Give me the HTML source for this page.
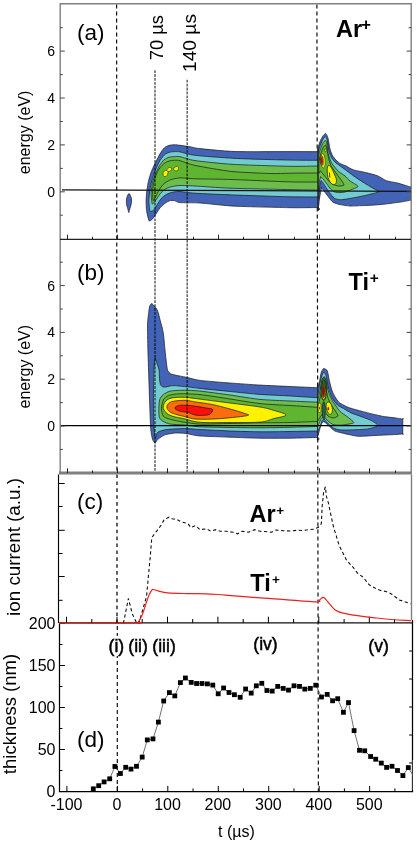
<!DOCTYPE html>
<html><head><meta charset="utf-8"><style>
html,body{margin:0;padding:0;background:#fff;overflow:hidden;}
svg{display:block;}
text{font-family:"Liberation Sans",sans-serif;fill:#000;}
</style></head><body>
<svg width="417" height="841" viewBox="0 0 417 841">
<rect width="417" height="841" fill="#fff"/>
<path d="M116.6 4.5 L116.9 471" stroke="#111" stroke-width="1.2" stroke-dasharray="4 3"/>
<path d="M117 474.5 V623" stroke="#5a5a5a" stroke-width="1.9" stroke-dasharray="3.6 3.3"/>
<path d="M117.3 626 V791" stroke="#111" stroke-width="1.2" stroke-dasharray="4 3"/>
<path d="M316.9 4.5 L318.4 791" stroke="#111" stroke-width="1.2" stroke-dasharray="4 3"/>
<path d="M129.0 193.6 C129.6 193.6 130.4 195.4 130.8 196.5 C131.2 197.6 131.6 198.6 131.6 200.0 C131.6 201.4 131.3 203.4 131.0 205.0 C130.7 206.6 130.0 208.2 129.6 209.5 C129.2 210.8 129.1 212.5 128.8 212.5 C128.5 212.5 128.3 210.8 128.0 209.5 C127.7 208.2 127.0 206.6 126.7 205.0 C126.4 203.4 126.3 201.4 126.4 200.0 C126.5 198.6 126.8 197.6 127.2 196.5 C127.6 195.4 128.4 193.6 129.0 193.6Z" fill="#4363b6" stroke="#1a1a1a" stroke-width="0.72" stroke-linejoin="round"/>
<path d="M149.1 220.8 C148.4 219.9 146.9 213.1 146.6 210.7 C146.2 208.3 146.1 203.0 146.1 200.6 C146.1 198.2 146.6 192.9 146.9 190.5 C147.2 188.1 148.1 182.5 148.6 180.4 C149.1 178.3 150.5 174.1 151.1 172.3 C151.7 170.5 153.3 167.1 154.1 165.3 C154.9 163.5 157.3 158.9 158.2 157.2 C159.1 155.5 160.9 152.3 161.7 151.1 C162.5 149.9 164.3 147.8 165.3 147.1 C166.3 146.4 169.1 145.4 170.3 145.1 C171.5 144.8 174.3 144.8 175.4 144.8 C176.5 144.8 178.2 145.1 180.0 145.3 C181.8 145.5 188.7 146.5 191.0 146.9 C193.3 147.3 194.9 148.1 200.0 148.6 C205.1 149.1 224.5 151.2 235.0 151.5 C245.5 151.8 280.3 151.6 290.0 151.6 C299.7 151.6 314.7 151.7 318.0 151.7 C321.3 151.7 318.0 145.2 318.0 151.7 C318.0 158.2 318.0 201.0 318.0 207.5 C318.0 214.0 321.3 207.5 318.0 207.5 C314.7 207.5 299.7 207.9 290.0 207.7 C280.3 207.5 245.5 206.7 235.0 206.2 C224.5 205.7 206.4 203.4 200.0 203.0 C193.6 202.6 183.0 202.9 180.0 202.6 C177.0 202.3 175.4 200.8 174.3 200.6 C173.2 200.4 171.4 200.3 170.3 200.6 C169.2 200.9 166.5 202.3 165.3 203.1 C164.1 203.9 161.3 206.5 160.2 207.7 C159.1 208.9 157.1 212.4 156.2 213.7 C155.3 215.0 153.4 218.0 152.6 218.8 C151.8 219.6 149.8 221.7 149.1 220.8Z" fill="#4363b6" stroke="#1a1a1a" stroke-width="0.72" stroke-linejoin="round"/>
<path d="M150.1 211.2 C149.5 210.1 148.9 203.2 148.9 200.6 C148.9 198.0 149.7 191.1 150.1 188.5 C150.5 185.9 151.9 180.8 152.6 178.4 C153.3 176.0 155.3 170.4 156.2 168.3 C157.1 166.2 159.1 161.9 160.2 160.2 C161.3 158.5 164.1 155.0 165.3 154.1 C166.5 153.2 169.1 152.4 170.3 152.1 C171.5 151.8 174.3 151.6 175.4 151.6 C176.5 151.6 177.7 151.5 180.0 151.9 C182.3 152.3 188.6 154.5 195.0 155.3 C201.4 156.1 223.9 157.8 235.0 158.4 C246.1 159.0 280.3 159.9 290.0 160.1 C299.7 160.3 314.7 160.3 318.0 160.3 C321.3 160.3 318.0 156.0 318.0 160.3 C318.0 164.6 318.0 192.6 318.0 196.9 C318.0 201.2 321.3 196.9 318.0 196.9 C314.7 196.9 299.7 197.0 290.0 196.8 C280.3 196.6 246.1 195.4 235.0 195.0 C223.9 194.6 201.4 193.6 195.0 193.2 C188.6 192.8 182.5 191.6 180.0 191.5 C177.5 191.4 174.9 191.7 173.3 192.0 C171.7 192.3 167.7 193.7 166.3 194.5 C164.9 195.3 162.3 197.4 161.2 198.6 C160.1 199.8 158.0 203.3 157.2 204.6 C156.4 205.9 154.9 208.9 154.1 209.7 C153.3 210.5 150.7 212.3 150.1 211.2Z" fill="#72cbd0" stroke="#1a1a1a" stroke-width="0.72" stroke-linejoin="round"/>
<path d="M152.1 203.6 C151.8 202.4 151.0 195.0 151.1 192.5 C151.2 190.0 152.1 184.6 152.6 182.4 C153.1 180.2 154.9 175.3 155.7 173.3 C156.5 171.3 158.7 166.9 159.7 165.3 C160.7 163.7 163.1 160.6 164.2 159.7 C165.3 158.8 168.1 157.5 169.3 157.2 C170.5 156.8 173.1 156.8 174.3 156.7 C175.5 156.6 177.6 156.2 180.0 156.7 C182.4 157.2 188.9 159.7 195.0 160.6 C201.1 161.5 220.9 163.6 232.0 164.3 C243.1 165.0 280.0 166.1 290.0 166.3 C300.0 166.5 314.7 166.0 318.0 166.0 C321.3 166.0 318.0 163.2 318.0 166.0 C318.0 168.8 318.0 187.3 318.0 190.1 C318.0 192.9 321.3 190.2 318.0 190.1 C314.7 190.0 300.3 189.8 290.0 189.6 C279.7 189.4 241.1 188.6 230.0 188.2 C218.9 187.8 200.8 186.3 195.0 186.0 C189.2 185.7 182.6 185.4 180.0 185.5 C177.4 185.6 173.9 186.2 172.3 186.5 C170.7 186.8 167.6 187.8 166.3 188.5 C165.0 189.2 162.3 191.4 161.2 192.5 C160.1 193.6 158.0 196.9 157.2 198.1 C156.4 199.3 154.7 202.0 154.1 202.6 C153.5 203.2 152.4 204.8 152.1 203.6Z" fill="#6cbd4c" stroke="#1a1a1a" stroke-width="0.72" stroke-linejoin="round"/>
<path d="M153.1 200.6 C152.8 199.8 152.5 192.7 152.6 190.5 C152.7 188.3 153.6 183.5 154.1 181.4 C154.6 179.3 156.4 174.1 157.2 172.3 C158.0 170.5 160.3 167.4 161.2 166.3 C162.1 165.2 164.2 163.4 165.3 162.7 C166.4 162.0 169.1 161.0 170.3 160.7 C171.5 160.4 174.3 160.2 175.4 160.2 C176.5 160.2 177.7 160.1 180.0 160.7 C182.3 161.3 188.9 164.1 195.0 165.4 C201.1 166.7 223.2 170.6 232.0 171.5 C240.8 172.4 263.2 173.3 270.0 173.5 C276.8 173.7 284.4 173.3 290.0 173.2 C295.6 173.1 314.7 173.0 318.0 173.0 C321.3 173.0 318.0 171.9 318.0 173.0 C318.0 174.1 318.0 180.9 318.0 182.0 C318.0 183.1 321.3 182.0 318.0 182.0 C314.7 182.0 300.0 182.2 290.0 181.9 C280.0 181.6 243.1 179.9 232.0 179.5 C220.9 179.1 201.1 179.0 195.0 178.8 C188.9 178.6 182.9 177.8 180.0 177.9 C177.1 178.0 172.3 179.1 170.3 179.9 C168.3 180.7 164.6 183.0 163.2 184.4 C161.8 185.8 159.1 190.0 158.2 191.5 C157.3 193.0 155.8 196.5 155.2 197.6 C154.6 198.7 153.4 201.4 153.1 200.6Z" fill="#5fb52f" stroke="#1a1a1a" stroke-width="0.72" stroke-linejoin="round"/>
<path d="M163.2 172.5 C163.6 171.6 165.0 170.4 165.8 170.2 C166.6 170.0 167.8 170.6 168.0 171.5 C168.2 172.4 167.5 174.6 167.0 175.5 C166.5 176.4 165.6 176.8 165.0 176.8 C164.4 176.8 163.7 176.3 163.4 175.6 C163.1 174.9 162.8 173.4 163.2 172.5Z" fill="#fbf200" stroke="#1a1a1a" stroke-width="0.54" stroke-linejoin="round"/>
<path d="M166.6 170.0 C166.8 169.4 168.5 167.9 169.3 167.6 C170.1 167.3 171.4 167.8 171.6 168.4 C171.8 169.0 171.2 170.4 170.6 170.9 C170.0 171.4 168.7 171.5 168.0 171.3 C167.3 171.2 166.4 170.6 166.6 170.0Z" fill="#fbf200" stroke="#1a1a1a" stroke-width="0.54" stroke-linejoin="round"/>
<path d="M173.8 168.2 C174.2 167.6 175.7 166.6 176.5 166.5 C177.3 166.4 178.3 166.8 178.6 167.4 C178.8 168.0 178.4 169.6 178.0 170.2 C177.6 170.8 176.6 171.0 176.0 171.0 C175.4 171.0 174.7 170.7 174.3 170.2 C173.9 169.7 173.4 168.8 173.8 168.2Z" fill="#fbf200" stroke="#1a1a1a" stroke-width="0.54" stroke-linejoin="round"/>
<path d="M318.0 151.7 C318.0 145.2 318.0 152.1 318.0 151.7 C318.0 151.3 318.0 148.4 318.0 148.0 C318.0 147.6 317.8 148.8 318.0 148.0 C318.2 147.2 319.4 142.9 320.0 141.5 C320.6 140.1 322.3 136.9 323.0 136.0 C323.7 135.1 325.1 133.3 325.6 133.4 C326.1 133.5 327.1 135.5 327.5 136.5 C327.9 137.5 328.5 140.5 328.8 142.0 C329.1 143.5 329.6 147.4 330.0 149.0 C330.4 150.6 331.8 154.2 332.5 155.5 C333.2 156.8 335.1 159.1 336.0 160.0 C336.9 160.9 338.9 162.9 340.0 163.5 C341.1 164.1 343.4 164.8 345.0 165.5 C346.6 166.2 351.2 169.1 353.6 169.9 C356.0 170.7 362.9 171.8 365.7 172.5 C368.5 173.2 375.4 174.9 377.8 175.9 C380.2 176.9 384.2 179.9 386.4 180.7 C388.6 181.5 394.6 182.3 396.8 182.8 C399.0 183.3 403.7 184.9 405.4 185.4 C407.1 185.9 410.3 186.9 411.0 187.1 C411.7 187.3 411.0 185.6 411.0 187.1 C411.0 188.6 411.0 198.6 411.0 200.1 C411.0 201.6 412.1 199.9 411.0 200.1 C409.9 200.3 404.5 201.4 402.0 201.8 C399.5 202.2 392.9 203.1 389.9 203.5 C386.9 203.9 379.3 204.7 376.1 204.9 C372.9 205.1 365.3 205.5 362.3 205.6 C359.3 205.7 352.6 206.1 350.0 206.0 C347.4 205.9 342.0 205.0 340.0 204.6 C338.0 204.2 334.3 203.0 333.0 202.2 C331.7 201.4 329.7 198.5 328.8 197.4 C327.9 196.3 326.0 193.7 325.2 192.6 C324.4 191.5 322.0 188.4 321.6 187.8 C321.2 187.2 321.8 187.1 321.6 187.8 C321.4 188.5 320.6 192.6 320.3 194.0 C320.0 195.4 319.5 198.7 319.3 200.0 C319.1 201.3 319.0 204.1 318.8 205.0 C318.6 205.9 318.1 207.2 318.0 207.5 C317.9 207.8 318.0 214.0 318.0 207.5 C318.0 201.0 318.0 158.2 318.0 151.7Z" fill="#4363b6" stroke="#1a1a1a" stroke-width="0.72" stroke-linejoin="round"/>
<path d="M318.3 155.0 C318.5 148.9 319.9 146.9 320.5 145.0 C321.1 143.1 322.6 140.0 323.2 139.0 C323.8 138.0 325.2 136.5 325.6 136.6 C326.0 136.7 326.7 138.5 327.0 139.5 C327.3 140.5 327.7 144.0 328.0 145.5 C328.3 147.0 328.8 151.0 329.3 152.5 C329.8 154.0 331.2 157.3 332.0 158.5 C332.8 159.7 334.9 162.1 336.0 163.0 C337.1 163.9 339.9 165.7 341.0 166.5 C342.1 167.3 343.5 168.4 345.0 169.5 C346.5 170.6 351.4 174.3 353.6 175.9 C355.8 177.5 361.8 181.4 364.0 182.8 C366.2 184.2 370.9 187.0 372.6 188.0 C374.3 189.0 379.3 190.9 378.7 191.7 C378.1 192.5 370.2 194.2 367.5 194.9 C364.8 195.6 358.0 197.0 355.4 197.5 C352.8 198.0 346.8 199.0 345.0 199.3 C343.2 199.6 341.2 199.9 340.0 199.8 C338.8 199.7 335.8 199.0 334.8 198.5 C333.8 198.0 332.5 196.3 331.8 195.5 C331.1 194.7 329.5 192.5 328.8 191.5 C328.1 190.5 326.5 188.3 325.8 187.2 C325.1 186.1 323.4 183.2 322.8 182.4 C322.2 181.6 321.2 180.8 321.0 180.6 C320.8 180.4 321.1 180.2 321.0 180.6 C320.9 181.0 320.2 182.7 320.0 184.0 C319.8 185.3 319.4 190.5 319.2 192.0 C319.0 193.5 318.6 201.3 318.5 197.0 C318.4 192.7 318.1 161.1 318.3 155.0Z" fill="#72cbd0" stroke="#1a1a1a" stroke-width="0.72" stroke-linejoin="round"/>
<path d="M318.5 158.0 C318.7 153.2 319.9 150.8 320.5 149.0 C321.1 147.2 322.7 143.5 323.3 142.5 C323.9 141.5 325.4 140.3 325.8 140.5 C326.2 140.7 326.7 142.5 327.0 144.0 C327.3 145.5 327.5 150.8 328.0 153.0 C328.5 155.2 330.4 161.0 331.7 163.2 C333.0 165.4 337.3 170.3 338.9 171.8 C340.5 173.3 343.7 174.8 345.0 175.9 C346.3 177.0 348.7 179.9 350.2 181.1 C351.7 182.3 357.8 185.3 358.0 186.3 C358.2 187.3 353.4 188.8 351.9 189.5 C350.4 190.2 346.4 191.6 345.0 192.0 C343.6 192.4 341.2 192.6 340.0 192.6 C338.8 192.6 335.9 192.4 334.8 192.0 C333.7 191.6 331.5 189.9 330.6 189.0 C329.7 188.1 327.8 185.3 327.0 184.2 C326.2 183.1 324.1 180.2 323.4 179.4 C322.7 178.6 321.0 177.3 320.7 177.0 C320.4 176.7 320.8 176.5 320.7 177.0 C320.6 177.5 319.8 179.5 319.5 181.0 C319.2 182.5 318.6 192.7 318.5 190.0 C318.4 187.3 318.3 162.8 318.5 158.0Z" fill="#6cbd4c" stroke="#1a1a1a" stroke-width="0.72" stroke-linejoin="round"/>
<path d="M319.0 162.0 C319.2 159.8 320.0 156.2 320.5 154.5 C321.0 152.8 322.9 148.1 323.5 147.0 C324.1 145.9 325.4 144.7 325.8 145.0 C326.2 145.3 326.6 148.4 327.0 150.0 C327.4 151.6 328.3 157.2 328.8 159.0 C329.3 160.8 330.2 163.9 331.0 165.5 C331.8 167.1 334.7 171.2 336.0 173.0 C337.3 174.8 340.9 179.6 341.8 181.0 C342.7 182.4 344.3 184.4 344.0 185.0 C343.7 185.6 340.3 186.1 338.9 186.0 C337.5 185.9 333.4 184.8 332.0 184.0 C330.6 183.2 328.1 180.2 327.0 179.0 C325.9 177.8 323.8 174.9 323.0 174.0 C322.2 173.1 321.0 171.1 320.5 171.0 C320.0 170.9 319.2 174.1 319.0 173.0 C318.8 171.9 318.8 164.2 319.0 162.0Z" fill="#5fb52f" stroke="#1a1a1a" stroke-width="0.72" stroke-linejoin="round"/>
<path d="M318.0 147.8 V207.5" stroke="#2a2a2a" stroke-width="0.55"/>
<path d="M329.0 165.3 C329.6 165.5 330.7 166.6 331.5 168.0 C332.3 169.4 333.2 171.7 334.0 173.5 C334.8 175.3 336.0 177.4 336.3 179.0 C336.6 180.6 336.5 182.3 336.0 183.2 C335.5 184.1 334.4 184.7 333.5 184.6 C332.6 184.5 331.4 183.7 330.5 182.5 C329.6 181.3 328.6 179.4 328.0 177.5 C327.4 175.6 327.3 172.8 327.2 171.0 C327.1 169.2 327.3 167.9 327.6 167.0 C327.9 166.1 328.4 165.1 329.0 165.3Z" fill="#fbf200" stroke="#1a1a1a" stroke-width="0.72" stroke-linejoin="round"/>
<path d="M329.4 172.5 L329.8 177.5" stroke="#1a1a1a" stroke-width="0.8"/>
<ellipse cx="322.9" cy="160.8" rx="2.3" ry="7.2" transform="rotate(-4 322.9 160.8)" fill="#fbf200" stroke="#1a1a1a" stroke-width="0.5"/>
<ellipse cx="321.8" cy="160.5" rx="1.5" ry="5.0" transform="rotate(-4 321.8 160.5)" fill="#ee5a1c" stroke="#1a1a1a" stroke-width="0.5"/>
<ellipse cx="321.6" cy="160.5" rx="0.6" ry="3.0" transform="rotate(-4 321.6 160.5)" fill="#9a2010" stroke="#1a1a1a" stroke-width="0.3"/>
<ellipse cx="325.3" cy="150.3" rx="1.0" ry="1.4" transform="rotate(0 325.3 150.3)" fill="#c8d020" stroke="#1a1a1a" stroke-width="0.4"/>
<path d="M151.6 303.6 C152.2 303.6 154.0 305.7 154.6 306.4 C155.2 307.1 156.5 308.6 157.0 309.5 C157.5 310.4 158.2 312.7 158.6 314.0 C159.0 315.3 159.9 319.2 160.3 320.8 C160.7 322.4 161.9 326.2 162.3 328.0 C162.7 329.8 163.4 333.6 163.7 336.2 C164.0 338.8 164.7 346.9 165.0 350.0 C165.3 353.1 166.1 360.1 166.4 362.5 C166.7 364.9 167.1 369.1 167.7 370.5 C168.3 371.9 169.9 373.5 171.3 374.1 C172.7 374.7 177.3 375.5 179.3 375.9 C181.3 376.3 185.8 377.2 188.2 377.7 C190.6 378.2 195.1 379.8 200.0 380.4 C204.9 381.0 223.0 382.5 230.0 383.0 C237.0 383.5 253.0 384.7 260.0 385.1 C267.0 385.5 283.3 386.2 290.0 386.5 C296.7 386.8 314.3 387.6 317.5 387.7 C320.7 387.8 317.5 381.9 317.5 387.7 C317.5 393.5 317.5 431.7 317.5 437.5 C317.5 443.3 320.7 437.4 317.5 437.5 C314.3 437.6 296.7 438.1 290.0 438.2 C283.3 438.3 267.0 438.3 260.0 438.2 C253.0 438.1 237.0 437.5 230.0 437.2 C223.0 436.9 205.1 436.4 200.0 436.0 C194.9 435.6 189.2 434.0 186.4 433.6 C183.6 433.2 178.2 432.9 175.7 433.0 C173.2 433.1 167.1 434.1 165.0 434.8 C162.9 435.5 159.0 438.4 157.9 439.3 C156.8 440.2 155.8 442.9 155.2 442.9 C154.6 442.9 153.0 441.0 152.5 439.3 C152.0 437.6 151.0 432.4 150.7 428.6 C150.4 424.8 150.0 412.7 149.8 407.1 C149.6 401.5 149.1 386.6 148.9 380.4 C148.7 374.2 148.2 359.9 148.0 353.6 C147.8 347.3 147.5 330.8 147.5 326.8 C147.5 322.8 147.7 321.3 147.9 319.4 C148.1 317.5 148.7 312.3 148.9 310.7 C149.1 309.1 149.5 306.8 149.8 306.0 C150.1 305.2 151.0 303.6 151.6 303.6Z" fill="#4363b6" stroke="#1a1a1a" stroke-width="0.72" stroke-linejoin="round"/>
<path d="M155.2 358.0 C155.5 358.2 156.8 363.0 157.3 364.4 C157.8 365.8 158.8 368.4 159.1 370.1 C159.4 371.8 159.3 377.1 159.5 378.8 C159.7 380.5 160.1 383.7 160.4 384.6 C160.8 385.5 161.9 386.5 162.5 386.8 C163.1 387.1 164.7 387.1 165.5 387.0 C166.3 386.9 168.2 386.4 169.2 386.2 C170.2 386.0 172.2 385.6 174.0 385.6 C175.8 385.6 181.6 386.3 184.6 386.6 C187.6 386.9 194.7 387.8 200.0 388.4 C205.3 389.0 223.0 390.8 230.0 391.5 C237.0 392.2 253.0 393.9 260.0 394.4 C267.0 394.9 283.3 395.6 290.0 396.0 C296.7 396.4 314.3 397.5 317.5 397.7 C320.7 397.9 317.5 393.8 317.5 397.7 C317.5 401.6 317.5 427.1 317.5 431.0 C317.5 434.9 320.7 430.9 317.5 431.0 C314.3 431.1 296.7 431.4 290.0 431.5 C283.3 431.6 267.0 431.9 260.0 431.8 C253.0 431.7 237.0 431.3 230.0 431.0 C223.0 430.7 205.3 429.8 200.0 429.5 C194.7 429.2 188.5 428.6 184.6 428.6 C180.7 428.6 169.9 429.1 166.8 429.5 C163.7 429.9 159.3 431.2 157.9 432.1 C156.5 433.0 155.7 438.3 155.2 437.5 C154.7 436.7 154.1 429.6 153.9 425.0 C153.7 420.4 153.4 404.5 153.4 398.2 C153.4 391.9 153.8 375.5 153.9 371.4 C154.0 367.3 154.3 364.6 154.5 363.0 C154.7 361.4 154.9 357.8 155.2 358.0Z" fill="#72cbd0" stroke="#1a1a1a" stroke-width="0.72" stroke-linejoin="round"/>
<path d="M158.8 410.7 C158.8 408.6 159.1 401.9 159.6 400.0 C160.1 398.1 161.9 395.6 163.2 394.6 C164.5 393.6 167.9 391.6 170.4 391.1 C172.9 390.6 181.1 390.2 184.6 390.2 C188.1 390.2 194.7 390.5 200.0 391.1 C205.3 391.7 223.0 394.0 230.0 395.0 C237.0 396.0 253.0 398.7 260.0 399.4 C267.0 400.1 283.3 400.7 290.0 401.0 C296.7 401.3 314.3 402.1 317.5 402.2 C320.7 402.3 317.5 399.4 317.5 402.2 C317.5 405.0 317.5 423.7 317.5 426.5 C317.5 429.3 320.7 426.4 317.5 426.5 C314.3 426.6 296.7 427.1 290.0 427.3 C283.3 427.5 267.0 427.8 260.0 427.8 C253.0 427.8 237.0 427.6 230.0 427.5 C223.0 427.4 205.3 427.1 200.0 426.8 C194.7 426.5 188.1 425.3 184.6 425.0 C181.1 424.7 172.9 424.5 170.4 424.1 C167.9 423.7 164.5 422.1 163.2 421.4 C161.9 420.7 160.1 419.1 159.6 417.9 C159.1 416.7 158.8 412.8 158.8 410.7Z" fill="#6cbd4c" stroke="#1a1a1a" stroke-width="0.72" stroke-linejoin="round"/>
<path d="M161.4 408.9 C161.4 407.0 162.4 401.6 163.2 400.0 C164.0 398.4 166.7 396.2 168.6 395.5 C170.5 394.8 175.6 393.9 179.3 393.8 C183.0 393.7 194.1 394.0 200.0 394.6 C205.9 395.2 223.0 397.9 230.0 399.0 C237.0 400.1 253.0 402.8 260.0 403.6 C267.0 404.4 283.3 405.1 290.0 405.5 C296.7 405.9 314.3 407.1 317.5 407.3 C320.7 407.5 317.5 405.6 317.5 407.3 C317.5 409.0 317.5 419.8 317.5 421.5 C317.5 423.2 320.7 421.4 317.5 421.5 C314.3 421.6 296.7 422.3 290.0 422.5 C283.3 422.7 267.0 422.8 260.0 422.9 C253.0 423.0 237.0 423.4 230.0 423.5 C223.0 423.6 205.9 424.3 200.0 424.1 C194.1 423.9 183.0 422.0 179.3 421.4 C175.6 420.8 170.5 419.4 168.6 418.8 C166.7 418.2 164.0 417.3 163.2 416.1 C162.4 414.9 161.4 410.8 161.4 408.9Z" fill="#5fb52f" stroke="#1a1a1a" stroke-width="0.72" stroke-linejoin="round"/>
<path d="M163.2 407.1 C163.2 405.2 164.4 402.4 165.9 400.9 C167.4 399.4 169.0 398.5 172.1 397.9 C175.2 397.3 179.9 397.1 184.6 397.3 C189.2 397.5 192.4 398.2 200.0 399.1 C207.6 400.1 220.0 401.7 230.0 403.0 C240.0 404.3 252.8 405.8 260.0 407.0 C267.2 408.2 269.1 409.0 273.4 410.3 C277.7 411.6 286.0 413.6 286.0 415.0 C286.0 416.4 277.7 417.5 273.4 418.7 C269.1 419.9 267.2 421.5 260.0 422.1 C252.8 422.7 240.0 422.5 230.0 422.5 C220.0 422.5 207.6 422.9 200.0 422.3 C192.4 421.7 189.2 419.8 184.6 418.8 C179.9 417.8 175.2 417.2 172.1 416.1 C169.0 415.1 167.4 414.0 165.9 412.5 C164.4 411.0 163.2 409.0 163.2 407.1Z" fill="#fbf200" stroke="#1a1a1a" stroke-width="0.72" stroke-linejoin="round"/>
<path d="M166.8 407.1 C166.8 405.6 168.0 403.7 169.5 402.7 C171.0 401.7 172.9 401.3 175.7 400.9 C178.5 400.5 183.2 400.2 186.4 400.4 C189.6 400.6 190.8 401.2 195.0 401.9 C199.2 402.6 206.2 403.3 211.8 404.4 C217.4 405.5 223.8 407.3 228.6 408.6 C233.3 409.9 237.5 411.1 240.3 412.0 C243.1 412.9 244.0 413.2 245.4 413.7 C246.8 414.2 249.0 414.6 248.7 415.0 C248.4 415.4 247.0 415.7 243.7 416.2 C240.3 416.7 233.9 417.4 228.6 417.9 C223.3 418.4 217.4 418.9 211.8 419.1 C206.2 419.3 199.2 419.4 195.0 419.0 C190.8 418.6 189.6 417.8 186.4 417.0 C183.2 416.2 178.5 415.2 175.7 414.3 C172.9 413.4 171.0 412.8 169.5 411.6 C168.0 410.4 166.8 408.6 166.8 407.1Z" fill="#fa6c0c" stroke="#1a1a1a" stroke-width="0.72" stroke-linejoin="round"/>
<path d="M174.8 408.0 C174.8 407.1 177.1 405.8 179.3 405.4 C181.5 405.0 185.6 405.3 188.2 405.4 C190.8 405.5 192.2 405.7 195.0 406.1 C197.8 406.5 202.3 407.3 205.1 407.8 C207.9 408.3 210.6 408.5 211.8 409.0 C213.1 409.5 213.0 409.8 212.6 410.7 C212.2 411.6 211.1 413.7 209.3 414.5 C207.5 415.3 204.1 415.3 201.7 415.4 C199.3 415.5 197.2 415.5 195.0 415.0 C192.8 414.5 190.8 413.1 188.2 412.5 C185.6 411.9 181.5 411.9 179.3 411.1 C177.1 410.4 174.8 408.9 174.8 408.0Z" fill="#ff0c0c" stroke="#1a1a1a" stroke-width="0.72" stroke-linejoin="round"/>
<path d="M317.5 387.7 C317.5 381.9 317.3 388.5 317.5 387.7 C317.7 386.9 319.2 382.8 319.6 381.1 C320.0 379.4 320.6 374.9 321.0 373.4 C321.4 371.9 322.7 369.0 323.4 368.6 C324.1 368.2 326.2 369.4 326.8 370.1 C327.4 370.8 327.9 373.0 328.2 374.4 C328.5 375.8 329.2 380.2 329.7 382.1 C330.2 384.0 331.5 389.0 332.1 390.7 C332.7 392.4 334.1 395.2 334.9 396.5 C335.7 397.8 337.8 401.2 338.8 402.2 C339.8 403.2 342.3 404.4 343.6 405.1 C344.9 405.8 347.8 407.3 350.0 408.0 C352.2 408.7 359.5 410.7 362.2 411.4 C364.9 412.1 370.6 413.6 373.2 414.2 C375.8 414.8 381.7 416.2 384.3 416.6 C386.9 417.0 393.2 417.6 395.4 417.9 C397.6 418.2 401.9 419.0 402.8 419.1 C403.7 419.2 402.8 417.4 402.8 419.1 C402.8 420.8 402.8 432.2 402.8 433.9 C402.8 435.6 403.7 433.8 402.8 433.9 C401.9 434.0 398.4 434.3 395.4 434.5 C392.4 434.7 381.2 435.2 376.9 435.4 C372.6 435.6 361.6 436.4 358.5 436.3 C355.4 436.2 352.0 435.2 350.0 434.8 C348.0 434.4 343.5 433.3 341.7 432.9 C339.9 432.5 336.4 431.8 334.9 431.0 C333.4 430.2 330.2 427.1 329.2 426.2 C328.2 425.3 326.8 424.0 326.2 423.5 C325.6 423.0 324.4 421.7 323.8 421.8 C323.2 421.9 321.9 423.0 321.4 424.0 C320.9 425.0 320.0 428.4 319.5 430.0 C319.0 431.6 317.7 436.6 317.5 437.5 C317.3 438.4 317.5 443.3 317.5 437.5 C317.5 431.7 317.5 393.5 317.5 387.7Z" fill="#4363b6" stroke="#1a1a1a" stroke-width="0.72" stroke-linejoin="round"/>
<path d="M317.5 397.7 C317.5 393.8 317.2 399.3 317.5 397.7 C317.8 396.1 319.3 386.4 319.8 384.0 C320.3 381.6 321.1 378.3 321.5 377.0 C321.9 375.7 323.0 372.9 323.5 372.5 C324.0 372.1 325.1 373.4 325.5 374.0 C325.9 374.6 326.2 376.6 326.5 378.0 C326.8 379.4 327.5 384.1 328.0 386.0 C328.5 387.9 329.9 392.4 330.5 394.0 C331.1 395.6 332.6 398.7 333.5 400.0 C334.4 401.3 336.8 404.5 338.0 405.5 C339.2 406.5 342.1 407.6 343.6 408.5 C345.1 409.4 348.9 411.9 351.1 412.9 C353.3 413.9 359.8 416.0 362.2 416.9 C364.6 417.8 369.6 419.6 371.4 420.6 C373.2 421.6 378.3 424.7 377.9 425.7 C377.5 426.7 370.8 428.4 367.7 428.9 C364.6 429.4 354.3 429.8 351.1 429.9 C347.9 430.0 342.1 430.1 340.0 429.9 C337.9 429.7 334.8 428.7 333.5 428.0 C332.2 427.3 329.4 424.9 328.5 424.0 C327.6 423.1 326.0 421.1 325.5 420.5 C325.0 419.9 324.2 418.9 323.8 419.0 C323.4 419.1 322.4 420.1 322.0 421.0 C321.6 421.9 320.5 425.3 320.0 426.5 C319.5 427.7 317.8 430.5 317.5 431.0 C317.2 431.5 317.5 434.9 317.5 431.0 C317.5 427.1 317.5 401.6 317.5 397.7Z" fill="#72cbd0" stroke="#1a1a1a" stroke-width="0.72" stroke-linejoin="round"/>
<path d="M317.5 402.2 C317.5 399.4 317.2 403.6 317.5 402.2 C317.8 400.8 319.5 392.5 320.0 390.0 C320.5 387.5 321.5 382.6 322.0 381.0 C322.5 379.4 323.5 376.6 324.0 376.5 C324.5 376.4 325.6 378.7 326.0 380.0 C326.4 381.3 327.0 386.1 327.5 388.0 C328.0 389.9 329.2 394.2 330.0 396.0 C330.8 397.8 332.8 401.2 334.0 403.0 C335.2 404.8 338.4 409.8 340.0 411.4 C341.6 413.0 345.8 415.6 347.4 416.9 C349.0 418.2 353.8 421.6 353.8 422.5 C353.8 423.4 349.0 424.0 347.4 424.3 C345.8 424.6 341.7 425.2 340.0 425.2 C338.3 425.2 334.4 425.0 333.0 424.5 C331.6 424.0 329.0 421.9 328.0 421.0 C327.0 420.1 325.0 417.5 324.5 417.0 C324.0 416.5 323.9 416.3 323.5 416.5 C323.1 416.7 321.5 418.2 321.0 419.0 C320.5 419.8 319.4 422.6 319.0 423.5 C318.6 424.4 317.7 426.1 317.5 426.5 C317.3 426.9 317.5 429.3 317.5 426.5 C317.5 423.7 317.5 405.0 317.5 402.2Z" fill="#6cbd4c" stroke="#1a1a1a" stroke-width="0.72" stroke-linejoin="round"/>
<path d="M317.5 407.3 C317.5 405.6 317.2 408.4 317.5 407.3 C317.8 406.2 319.4 400.5 320.0 398.0 C320.6 395.5 322.0 388.0 322.5 386.0 C323.0 384.0 324.1 380.8 324.5 381.0 C324.9 381.2 325.6 386.0 326.0 388.0 C326.4 390.0 327.3 395.9 328.0 398.0 C328.7 400.1 331.1 404.4 332.0 406.0 C332.9 407.6 335.3 410.8 336.0 412.0 C336.7 413.2 338.4 415.3 338.0 416.0 C337.6 416.7 334.2 418.0 333.0 418.0 C331.8 418.0 329.0 416.7 328.0 416.0 C327.0 415.3 325.3 412.0 324.5 412.0 C323.7 412.0 321.8 414.9 321.0 416.0 C320.2 417.1 317.9 420.9 317.5 421.5 C317.1 422.1 317.5 423.2 317.5 421.5 C317.5 419.8 317.5 409.0 317.5 407.3Z" fill="#5fb52f" stroke="#1a1a1a" stroke-width="0.72" stroke-linejoin="round"/>
<path d="M317.5 387.7 V437.5" stroke="#2a2a2a" stroke-width="0.55"/>
<ellipse cx="323.7" cy="389" rx="2.9" ry="11.5" transform="rotate(0 323.7 389)" fill="#3f8a2c" stroke="#1a1a1a" stroke-width="0.7"/>
<ellipse cx="323.7" cy="389" rx="1.9" ry="9.5" transform="rotate(0 323.7 389)" fill="#2f6a25" stroke="#1a1a1a" stroke-width="0.6"/>
<ellipse cx="323.8" cy="410.5" rx="1.6" ry="9.0" transform="rotate(0 323.8 410.5)" fill="#2c5f5a" stroke="#1a1a1a" stroke-width="0.6"/>
<ellipse cx="319.6" cy="407.9" rx="1.6" ry="5.0" transform="rotate(0 319.6 407.9)" fill="#fbf200" stroke="#1a1a1a" stroke-width="0.6"/>
<ellipse cx="319.5" cy="408.2" rx="0.4" ry="1.4" transform="rotate(0 319.5 408.2)" fill="#333" stroke="#1a1a1a" stroke-width="0.1"/>
<ellipse cx="329.3" cy="408.1" rx="2.9" ry="6.3" transform="rotate(-12 329.3 408.1)" fill="#fbf200" stroke="#1a1a1a" stroke-width="0.6"/>
<ellipse cx="328.3" cy="408.7" rx="0.8" ry="1.6" transform="rotate(0 328.3 408.7)" fill="#b02010" stroke="#1a1a1a" stroke-width="0.2"/>
<ellipse cx="323.7" cy="392.5" rx="2.0" ry="7.2" transform="rotate(0 323.7 392.5)" fill="#fbf200" stroke="#1a1a1a" stroke-width="0.5"/>
<ellipse cx="323.5" cy="391.5" rx="1.5" ry="6.3" transform="rotate(0 323.5 391.5)" fill="#c03a10" stroke="#1a1a1a" stroke-width="0.4"/>
<ellipse cx="323.4" cy="391" rx="0.8" ry="4.5" transform="rotate(0 323.4 391)" fill="#951010" stroke="#1a1a1a" stroke-width="0.3"/>
<path d="M62 189.9 L411 191.3" stroke="#111" stroke-width="1.2"/>
<path d="M61 425.6 H412" stroke="#000" stroke-width="1.1"/>
<path d="M155 70.2 V472" stroke="#000" stroke-opacity="0.62" stroke-width="1.5" stroke-dasharray="2.8 1.1"/>
<path d="M187.2 79.8 V472" stroke="#000" stroke-opacity="0.62" stroke-width="1.5" stroke-dasharray="2.8 1.1"/>
<path d="M60.2 472 V3.8 H411.2 V472" fill="none" stroke="#7f7f7f" stroke-width="1.4"/>
<path d="M60 239.4 H411" stroke="#222" stroke-width="1.1"/>
<path d="M59 473 H412" stroke="#7f7f7f" stroke-width="3"/>
<path d="M67.5 239.4 V234.7 M67.5 473 V468.3 M92.5 239.4 V236.8 M92.5 473 V470.4 M117.5 239.4 V234.7 M117.5 473 V468.3 M142.5 239.4 V236.8 M142.5 473 V470.4 M167.5 239.4 V234.7 M167.5 473 V468.3 M193.5 239.4 V236.8 M193.5 473 V470.4 M218.5 239.4 V234.7 M218.5 473 V468.3 M243.5 239.4 V236.8 M243.5 473 V470.4 M268.5 239.4 V234.7 M268.5 473 V468.3 M294.5 239.4 V236.8 M294.5 473 V470.4 M319.5 239.4 V234.7 M319.5 473 V468.3 M344.5 239.4 V236.8 M344.5 473 V470.4 M369.5 239.4 V234.7 M369.5 473 V468.3 M395.5 239.4 V236.8 M395.5 473 V470.4" stroke="#222" stroke-width="1"/>
<path d="M60.2 215.2 H62.8 M411.2 215.2 H408.6 M60.2 191.8 H64.8 M411.2 191.8 H406.6 M60.2 168.4 H62.8 M411.2 168.4 H408.6 M60.2 144.9 H64.8 M411.2 144.9 H406.6 M60.2 121.5 H62.8 M411.2 121.5 H408.6 M60.2 98.0 H64.8 M411.2 98.0 H406.6 M60.2 74.6 H62.8 M411.2 74.6 H408.6 M60.2 51.1 H64.8 M411.2 51.1 H406.6 M60.2 27.7 H62.8 M411.2 27.7 H408.6" stroke="#444" stroke-width="1"/>
<path d="M60.2 449.4 H62.8 M411.2 449.4 H408.6 M60.2 426.0 H64.8 M411.2 426.0 H406.6 M60.2 402.6 H62.8 M411.2 402.6 H408.6 M60.2 379.2 H64.8 M411.2 379.2 H406.6 M60.2 355.8 H62.8 M411.2 355.8 H408.6 M60.2 332.4 H64.8 M411.2 332.4 H406.6 M60.2 309.0 H62.8 M411.2 309.0 H408.6 M60.2 285.6 H64.8 M411.2 285.6 H406.6 M60.2 262.2 H62.8 M411.2 262.2 H408.6" stroke="#444" stroke-width="1"/>
<path d="M58.5 474.5 V623" stroke="#000" stroke-width="1.15"/>
<path d="M411.5 474.5 V620" stroke="#7f7f7f" stroke-width="1.4"/>
<path d="M58.5 483.5 H64.7 M58.5 506.5 H62.6 M58.5 530.3 H64.7 M58.5 553.5 H62.6 M58.5 576.5 H64.7 M58.5 600.3 H62.6" stroke="#000" stroke-width="1"/>
<path d="M59.5 623 V791.5 H412.5 V620" fill="none" stroke="#000" stroke-width="1.25"/>
<path d="M59 622.9 H412.5" stroke="#111" stroke-width="1.4"/>
<path d="M59.5 791.5 H64.9 M59.5 770.5 H62.4 M59.5 749.5 H64.9 M59.5 728.5 H62.4 M59.5 707.5 H64.9 M59.5 686.5 H62.4 M59.5 665.5 H64.9 M59.5 644.5 H62.4 M59.5 623.5 H64.9 M412.2 651.0 H409.2 M412.2 679.0 H409.2 M412.2 707.0 H409.2 M412.2 735.0 H409.2 M412.2 763.0 H409.2 M66.89 791.3 V785.9 M66.5 623 V616.7 M92.12 791.3 V788.4 M91.8 623 V619 M117.35 791.3 V785.9 M117.0 623 V616.7 M142.58 791.3 V788.4 M142.2 623 V619 M167.81 791.3 V785.9 M167.5 623 V616.7 M193.04 791.3 V788.4 M192.7 623 V619 M218.27 791.3 V785.9 M217.9 623 V616.7 M243.50 791.3 V788.4 M243.2 623 V619 M268.73 791.3 V785.9 M268.4 623 V616.7 M293.96 791.3 V788.4 M293.6 623 V619 M319.19 791.3 V785.9 M318.8 623 V616.7 M344.42 791.3 V788.4 M344.1 623 V619 M369.65 791.3 V785.9 M369.3 623 V616.7 M394.88 791.3 V788.4 M394.5 623 V619" stroke="#000" stroke-width="1"/>
<path d="M123.4 623.4 L128.4 598.5 L132.3 613.9 L136.9 623.4 L138.8 623.4 L146.5 596.6 L150.3 556.3 L151.8 537.5 L156.5 531.3 L161.2 525.0 L164.3 519.4 L169.0 517.2 L172.1 518.8 L176.8 519.4 L181.4 521.9 L187.7 523.4 L190.8 527.5 L195.5 525.6 L200.1 529.7 L206.4 528.8 L211.0 531.3 L215.7 529.7 L220.4 531.3 L226.6 531.3 L232.9 532.2 L237.5 533.8 L242.2 531.3 L248.5 532.2 L254.7 529.7 L260.0 531.3 L265.0 531.5 L271.3 532.3 L276.0 530.0 L282.6 530.6 L290.0 531.0 L297.6 530.2 L303.0 530.5 L309.0 529.5 L314.0 529.3 L318.4 527.2 L321.4 523.6 L322.1 507.0 L323.6 492.0 L325.4 486.8 L326.4 496.4 L328.6 503.6 L329.6 509.0 L333.4 526.5 L339.1 545.3 L346.6 560.4 L352.0 566.0 L357.9 573.5 L363.0 577.0 L369.2 584.8 L375.0 588.0 L380.5 590.5 L386.0 591.5 L391.8 594.2 L399.3 599.9 L410.6 603.7" fill="none" stroke="#111" stroke-width="1.1" stroke-dasharray="3.3 2.6"/>
<path d="M59.0 623.2 C71.8 623.2 122.2 623.5 135.5 623.2 C148.8 622.9 137.3 623.0 138.5 621.5 C139.7 620.0 140.9 618.0 142.6 613.9 C144.2 609.8 146.9 600.5 148.4 596.6 C149.9 592.7 150.7 591.7 151.5 590.5 C152.3 589.3 152.4 589.4 153.5 589.5 C154.6 589.6 155.7 590.4 158.0 590.9 C160.3 591.4 162.8 592.3 167.6 592.8 C172.4 593.2 180.3 593.4 186.7 593.6 C193.1 593.8 199.5 593.5 205.9 593.8 C212.3 594.0 215.5 594.4 225.1 595.1 C234.7 595.8 253.9 597.5 263.5 598.2 C273.1 598.9 273.8 598.7 282.6 599.3 C291.4 599.9 310.4 601.7 316.5 601.8 C322.6 601.9 318.4 600.6 319.5 599.9 C320.6 599.1 322.0 597.5 322.9 597.3 C323.8 597.1 324.2 597.8 325.0 598.5 C325.8 599.2 326.1 599.9 327.8 601.8 C329.5 603.7 332.8 608.2 335.3 610.1 C337.8 612.0 339.0 612.2 342.8 613.1 C346.6 614.0 352.9 615.0 357.9 615.7 C362.9 616.5 367.4 617.0 373.0 617.6 C378.6 618.2 385.5 619.0 391.8 619.5 C398.1 620.0 407.8 620.4 411.0 620.6" fill="none" stroke="#e8221e" stroke-width="1.2"/>
<path d="M93.3 788.8 L98.7 785.7 L104.1 781.9 L109.7 778.8 L114.9 766.5 L120.4 773.5 L125.7 767.3 L131.0 769.1 L136.5 766.3 L142.2 757.1 L147.3 739.9 L153.0 738.9 L158.4 722.1 L163.7 701.0 L169.4 692.6 L174.8 695.9 L180.4 682.6 L185.4 678.0 L191.2 682.4 L196.6 683.5 L202.0 683.5 L207.4 683.9 L212.8 685.1 L218.2 693.8 L223.6 688.0 L229.0 692.5 L234.4 694.7 L240.2 697.3 L245.6 689.0 L251.2 693.1 L256.3 685.8 L261.8 683.3 L266.9 690.5 L272.2 691.1 L277.7 686.4 L283.2 688.4 L288.5 690.1 L294.0 685.8 L299.5 686.4 L304.8 689.1 L310.3 688.4 L315.8 685.2 L321.5 697.0 L327.2 694.4 L332.6 700.8 L337.7 698.7 L343.4 712.3 L348.5 702.6 L354.1 730.6 L359.5 750.3 L364.7 750.8 L370.6 756.5 L375.7 759.2 L381.3 763.1 L386.6 767.4 L392.0 766.3 L397.5 770.5 L402.9 775.6 L408.3 767.6 L414.0 777.0" fill="none" stroke="#333" stroke-width="0.7"/>
<g fill="#000"><rect x="90.9" y="786.4" width="4.8" height="4.8"/><rect x="96.3" y="783.3" width="4.8" height="4.8"/><rect x="101.7" y="779.5" width="4.8" height="4.8"/><rect x="107.3" y="776.4" width="4.8" height="4.8"/><rect x="112.5" y="764.1" width="4.8" height="4.8"/><rect x="118.0" y="771.1" width="4.8" height="4.8"/><rect x="123.3" y="764.9" width="4.8" height="4.8"/><rect x="128.6" y="766.7" width="4.8" height="4.8"/><rect x="134.1" y="763.9" width="4.8" height="4.8"/><rect x="139.8" y="754.7" width="4.8" height="4.8"/><rect x="144.9" y="737.5" width="4.8" height="4.8"/><rect x="150.6" y="736.5" width="4.8" height="4.8"/><rect x="156.0" y="719.7" width="4.8" height="4.8"/><rect x="161.3" y="698.6" width="4.8" height="4.8"/><rect x="167.0" y="690.2" width="4.8" height="4.8"/><rect x="172.4" y="693.5" width="4.8" height="4.8"/><rect x="178.0" y="680.2" width="4.8" height="4.8"/><rect x="183.0" y="675.6" width="4.8" height="4.8"/><rect x="188.8" y="680.0" width="4.8" height="4.8"/><rect x="194.2" y="681.1" width="4.8" height="4.8"/><rect x="199.6" y="681.1" width="4.8" height="4.8"/><rect x="205.0" y="681.5" width="4.8" height="4.8"/><rect x="210.4" y="682.7" width="4.8" height="4.8"/><rect x="215.8" y="691.4" width="4.8" height="4.8"/><rect x="221.2" y="685.6" width="4.8" height="4.8"/><rect x="226.6" y="690.1" width="4.8" height="4.8"/><rect x="232.0" y="692.3" width="4.8" height="4.8"/><rect x="237.8" y="694.9" width="4.8" height="4.8"/><rect x="243.2" y="686.6" width="4.8" height="4.8"/><rect x="248.8" y="690.7" width="4.8" height="4.8"/><rect x="253.9" y="683.4" width="4.8" height="4.8"/><rect x="259.4" y="680.9" width="4.8" height="4.8"/><rect x="264.5" y="688.1" width="4.8" height="4.8"/><rect x="269.8" y="688.7" width="4.8" height="4.8"/><rect x="275.3" y="684.0" width="4.8" height="4.8"/><rect x="280.8" y="686.0" width="4.8" height="4.8"/><rect x="286.1" y="687.7" width="4.8" height="4.8"/><rect x="291.6" y="683.4" width="4.8" height="4.8"/><rect x="297.1" y="684.0" width="4.8" height="4.8"/><rect x="302.4" y="686.7" width="4.8" height="4.8"/><rect x="307.9" y="686.0" width="4.8" height="4.8"/><rect x="313.4" y="682.8" width="4.8" height="4.8"/><rect x="319.1" y="694.6" width="4.8" height="4.8"/><rect x="324.8" y="692.0" width="4.8" height="4.8"/><rect x="330.2" y="698.4" width="4.8" height="4.8"/><rect x="335.3" y="696.3" width="4.8" height="4.8"/><rect x="341.0" y="709.9" width="4.8" height="4.8"/><rect x="346.1" y="700.2" width="4.8" height="4.8"/><rect x="351.7" y="728.2" width="4.8" height="4.8"/><rect x="357.1" y="747.9" width="4.8" height="4.8"/><rect x="362.3" y="748.4" width="4.8" height="4.8"/><rect x="368.2" y="754.1" width="4.8" height="4.8"/><rect x="373.3" y="756.8" width="4.8" height="4.8"/><rect x="378.9" y="760.7" width="4.8" height="4.8"/><rect x="384.2" y="765.0" width="4.8" height="4.8"/><rect x="389.6" y="763.9" width="4.8" height="4.8"/><rect x="395.1" y="768.1" width="4.8" height="4.8"/><rect x="400.5" y="773.2" width="4.8" height="4.8"/><rect x="405.9" y="765.2" width="4.8" height="4.8"/></g>
<rect x="412.8" y="760" width="5" height="30" fill="#fff"/>
<g style="filter:grayscale(1)"><text x="55" y="196.8" text-anchor="end" font-size="14">0</text>
<text x="55" y="149.9" text-anchor="end" font-size="14">2</text>
<text x="55" y="103.0" text-anchor="end" font-size="14">4</text>
<text x="55" y="56.1" text-anchor="end" font-size="14">6</text>
<text x="55" y="431.0" text-anchor="end" font-size="14">0</text>
<text x="55" y="384.2" text-anchor="end" font-size="14">2</text>
<text x="55" y="337.4" text-anchor="end" font-size="14">4</text>
<text x="55" y="290.6" text-anchor="end" font-size="14">6</text>
<text x="55.5" y="796.9" text-anchor="end" font-size="16">0</text>
<text x="55.5" y="754.8" text-anchor="end" font-size="16">50</text>
<text x="55.5" y="712.8" text-anchor="end" font-size="16">100</text>
<text x="55.5" y="670.7" text-anchor="end" font-size="16">150</text>
<text x="55.5" y="628.7" text-anchor="end" font-size="16">200</text>
<text x="66.5" y="810" text-anchor="middle" font-size="16">-100</text>
<text x="117.0" y="810" text-anchor="middle" font-size="16">0</text>
<text x="167.5" y="810" text-anchor="middle" font-size="16">100</text>
<text x="217.9" y="810" text-anchor="middle" font-size="16">200</text>
<text x="268.4" y="810" text-anchor="middle" font-size="16">300</text>
<text x="318.8" y="810" text-anchor="middle" font-size="16">400</text>
<text x="369.3" y="810" text-anchor="middle" font-size="16">500</text>
<text x="236.5" y="836.5" text-anchor="middle" font-size="16">t (µs)</text>
<text transform="translate(30,132.4) rotate(-90)" text-anchor="middle" font-size="16">energy (eV)</text>
<text transform="translate(30,366.7) rotate(-90)" text-anchor="middle" font-size="16">energy (eV)</text>
<text transform="translate(20,547) rotate(-90)" text-anchor="middle" font-size="18.8">ion current (a.u.)</text>
<text transform="translate(15.5,714) rotate(-90)" text-anchor="middle" font-size="18.5">thickness (nm)</text>
<text x="77" y="40.3" font-size="22.5">(a)</text>
<text x="77" y="280" font-size="22.5">(b)</text>
<text x="77" y="509.4" font-size="22.5">(c)</text>
<text x="77" y="746.6" font-size="22.5">(d)</text>
<text x="336" y="37" font-size="23.5" font-weight="bold">Ar<tspan font-size="16.5" dx="-0.9" dy="-7.0">+</tspan></text>
<text x="348.5" y="290.3" font-size="23.5" font-weight="bold">Ti<tspan font-size="15.5" dx="0.85" dy="-7.6">+</tspan></text>
<text x="249.5" y="521.7" font-size="23.5" font-weight="bold">Ar<tspan font-size="13.5" dx="0.5" dy="-6.4">+</tspan></text>
<text x="250.3" y="590.6" font-size="23.5" font-weight="bold">Ti<tspan font-size="13.5" dx="1.2" dy="-6.4">+</tspan></text>
<text transform="translate(162.7,60.3) rotate(-90)" font-size="18.4">70 µs</text>
<text transform="translate(196,72) rotate(-90)" font-size="19.2">140 µs</text>
<rect x="110" y="636" width="14" height="20" fill="#fff"/>
<text x="108.6" y="651.8" font-size="17.6" stroke="#000" stroke-width="0.5">(i)</text>
<text x="128.3" y="651.8" font-size="17.6" stroke="#000" stroke-width="0.5">(ii)</text>
<text x="152.3" y="651.8" font-size="17.6" stroke="#000" stroke-width="0.5">(iii)</text>
<text x="253.3" y="650.0" font-size="17.6" stroke="#000" stroke-width="0.5">(iv)</text>
<text x="368.3" y="651.8" font-size="17.6" stroke="#000" stroke-width="0.5">(v)</text></g>
</svg>
</body></html>
